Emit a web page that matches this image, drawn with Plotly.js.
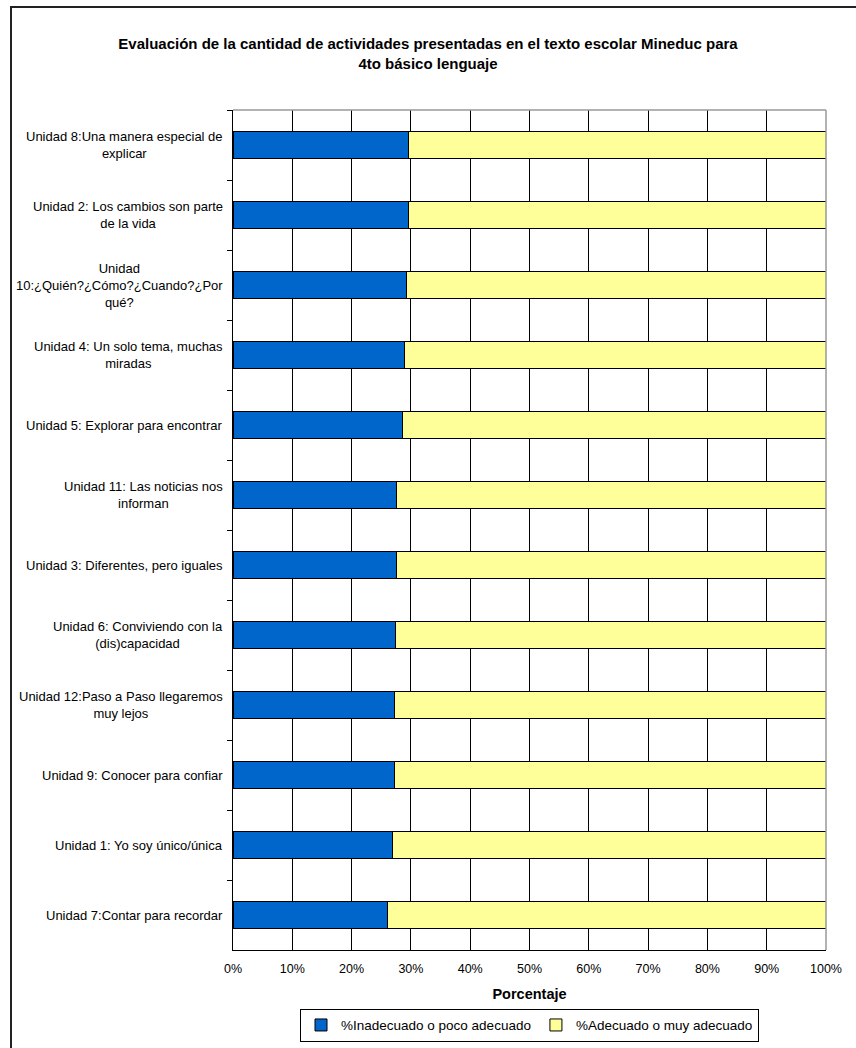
<!DOCTYPE html>
<html>
<head>
<meta charset="utf-8">
<script src="https://cdn.plot.ly/plotly-3.0.1.min.js"></script>
<style>
  html, body { margin:0; padding:0; background:#fff; overflow:hidden; }
  #wrap { position:relative; width:856px; height:1048px; }
  #chart { position:absolute; left:0; top:0; width:856px; height:1048px; }
  #frame { position:absolute; left:10px; top:6px; width:900px; height:1100px; border:2px solid #222; pointer-events:none; }
</style>
</head>
<body>
<div id="wrap"><div id="chart"></div><div id="frame"></div></div>
<script>
// Categories, top to bottom as shown
const categories = [
  "Unidad 8:Una manera especial de<br>explicar",
  "Unidad 2: Los cambios son parte<br>de la vida",
  "Unidad<br>10:¿Quién?¿Cómo?¿Cuando?¿Por<br>qué?",
  "Unidad 4: Un solo tema, muchas<br>miradas",
  "Unidad 5: Explorar para encontrar",
  "Unidad 11: Las noticias nos<br>informan",
  "Unidad 3: Diferentes, pero iguales",
  "Unidad 6: Conviviendo con la<br>(dis)capacidad",
  "Unidad 12:Paso a Paso llegaremos<br>muy lejos",
  "Unidad 9: Conocer para confiar",
  "Unidad 1: Yo soy único/única",
  "Unidad 7:Contar para recordar"
];
const inadecuado = [29.6, 29.6, 29.2, 28.9, 28.6, 27.5, 27.6, 27.4, 27.2, 27.2, 26.9, 26.1];
const adecuado = inadecuado.map(v => 100 - v);
const seriesNames = ["%Inadecuado o poco adecuado", "%Adecuado o muy adecuado"];
const xTickVals = [0,10,20,30,40,50,60,70,80,90,100];
const xTickText = ["0%","10%","20%","30%","40%","50%","60%","70%","80%","90%","100%"];

const FONT = "Liberation Sans, Arial, sans-serif";

const traces = [
  {type:'bar', orientation:'h', name:seriesNames[0], y:categories, x:inadecuado,
   marker:{color:'#0066CC', line:{color:'#000', width:1}}, hoverinfo:'skip'},
  {type:'bar', orientation:'h', name:seriesNames[1], y:categories, x:adecuado,
   marker:{color:'#FFFF99', line:{color:'#000', width:1}}, hoverinfo:'skip'}
];

const annotations = categories.map(c => ({
  xref:'paper', yref:'y', x:-0.0135, y:c, text:c, showarrow:false,
  xanchor:'right', yanchor:'middle', align:'center',
  font:{family:FONT, size:13, color:'#000'}
}));

const layout = {
  width:856, height:1048,
  paper_bgcolor:'#fff', plot_bgcolor:'#fff',
  margin:{l:233, r:30, t:110, b:98, autoexpand:false},
  barmode:'stack', bargap:0.61,
  showlegend:true,
  title:{text:"<b>Evaluación de la cantidad de actividades presentadas en el texto escolar Mineduc para<br>4to básico lenguaje</b>",
         font:{family:FONT, size:15, color:'#000'},
         x:0.5, xref:'container', xanchor:'center', y:1-49/1048, yref:'container', yanchor:'top', automargin:false},
  xaxis:{range:[0,100], tickvals:xTickVals, ticktext:xTickText, showgrid:true, gridcolor:'#000', gridwidth:1,
         zeroline:false, showline:true, linecolor:'#000', linewidth:1, ticks:'', ticklabelstandoff:7,
         tickfont:{family:FONT, size:12.5, color:'#000'}, automargin:false,
         title:{text:"<b>Porcentaje</b>", font:{family:FONT, size:14.5, color:'#000'}, standoff:13},
         fixedrange:true, mirror:false},
  yaxis:{type:'category', autorange:'reversed', showticklabels:false, ticks:'outside', tickson:'boundaries',
         ticklen:5, tickcolor:'#000', showline:true, linecolor:'#000', linewidth:1, showgrid:false,
         zeroline:false, fixedrange:true, automargin:false},
  legend:{orientation:'h', x:0.5, xanchor:'center', y:-0.0895, yanchor:'middle', xref:'paper', yref:'paper',
          bordercolor:'#000', borderwidth:1, bgcolor:'#fff', traceorder:'normal',
          font:{family:FONT, size:13.5, color:'#000'}, itemwidth:30, tracegroupgap:0},
  shapes:[
    {type:'line', xref:'paper', yref:'paper', x0:0, x1:1, y0:1, y1:1, line:{color:'#999', width:1.5}},
    {type:'line', xref:'paper', yref:'paper', x0:1, x1:1, y0:0, y1:1, line:{color:'#999', width:1.5}}
  ],
  annotations:annotations
};

Plotly.newPlot('chart', traces, layout, {displayModeBar:false, staticPlot:true});
</script>
</body>
</html>
